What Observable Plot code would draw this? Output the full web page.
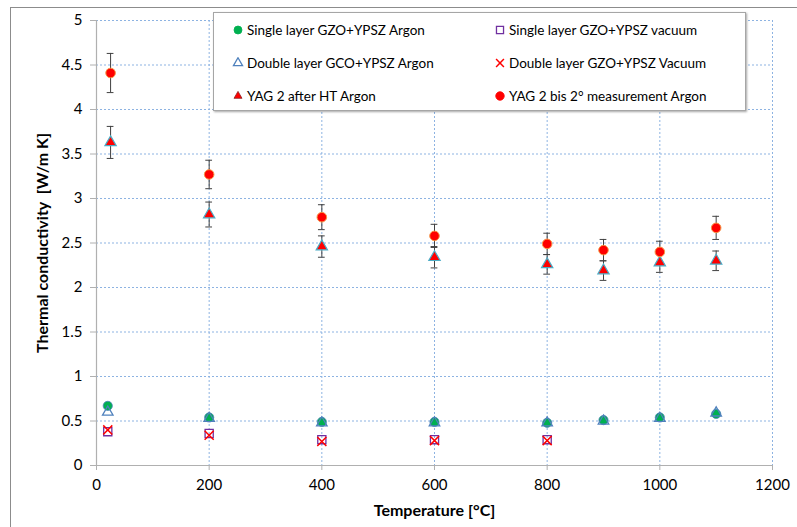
<!DOCTYPE html>
<html><head><meta charset="utf-8">
<script src="https://cdn.jsdelivr.net/npm/d3@7"></script>
<script src="https://cdn.jsdelivr.net/npm/@observablehq/plot@0.6"></script>
<style>
body{margin:0;background:#fff;font-family:Lato,"Open Sans",sans-serif;}
#wrap{position:relative;width:797px;height:527px;overflow:hidden;}
#frame{position:absolute;left:10px;top:7px;width:900px;height:700px;border-left:1px solid #8c8c8c;border-top:1px solid #8c8c8c;}
#chart{position:absolute;left:0;top:0;}
#legend{position:absolute;left:213px;top:12px;width:531px;height:97px;background:#fff;border:1px solid #a6a6a6;box-shadow:1px 1px 2px rgba(0,0,0,0.35);font-size:13.5px;color:#000;}
.li{position:absolute;display:flex;align-items:center;white-space:nowrap;}
.li svg{margin-right:3px;}
svg g[aria-label="x-axis label"], svg g[aria-label="y-axis label"]{font-weight:bold;font-size:16px;}
</style>
</head><body>
<div id="wrap"><div id="frame"></div><div id="chart"></div><div id="legend"></div></div>
<script>
// ---- data ----
const seriesNames = [
  "Single layer GZO+YPSZ Argon",
  "Single layer GZO+YPSZ vacuum",
  "Double layer GCO+YPSZ Argon",
  "Double layer GZO+YPSZ Vacuum",
  "YAG 2 after HT Argon",
  "YAG 2 bis 2° measurement Argon"
];
const tempArgon = [20, 200, 400, 600, 800, 900, 1000, 1100];
const singleArgon = [0.67, 0.54, 0.49, 0.49, 0.48, 0.51, 0.54, 0.58];
const doubleArgon = [0.60, 0.53, 0.48, 0.48, 0.48, 0.50, 0.53, 0.59];
const tempVacuum = [20, 200, 400, 600, 800];
const singleVacuum = [0.38, 0.36, 0.29, 0.29, 0.29];
const doubleVacuum = [0.40, 0.34, 0.27, 0.28, 0.28];
const tempYag = [25, 200, 400, 600, 800, 900, 1000, 1100];
const yagHT = [3.63, 2.82, 2.46, 2.34, 2.26, 2.19, 2.28, 2.30];
const yagHTErr = [0.18, 0.14, 0.12, 0.12, 0.11, 0.11, 0.11, 0.11];
const yagBis = [4.41, 3.27, 2.79, 2.58, 2.49, 2.42, 2.40, 2.67];
const yagBisErr = [0.22, 0.16, 0.14, 0.13, 0.12, 0.12, 0.12, 0.13];
const xTicks = [0, 200, 400, 600, 800, 1000, 1200];
const xTickLabels = ["0", "200", "400", "600", "800", "1000", "1200"];
const yTicks = [0, 0.5, 1, 1.5, 2, 2.5, 3, 3.5, 4, 4.5, 5];
const yTickLabels = ["0", "0.5", "1", "1.5", "2", "2.5", "3", "3.5", "4", "4.5", "5"];

// ---- styles per series ----
const styles = [
  {symbol: "circle", fill: "#00b050", stroke: "#4f81bd", r: 4.6, sw: 0.8},
  {symbol: "square", fill: "none", stroke: "#7030a0", r: 4.6, sw: 1.3},
  {symbol: "triangle", fill: "none", stroke: "#4f81bd", r: 3.9, sw: 1.3},
  {symbol: "times", fill: "none", stroke: "#ff0000", r: 4.2, sw: 1.5},
  {symbol: "triangle", fill: "#ff0000", stroke: "#4bacc6", r: 4.2, sw: 1.2},
  {symbol: "circle", fill: "#ff0000", stroke: "#f79646", r: 4.8, sw: 1}
];
const pts = (xs, ys) => xs.map((x, i) => ({x, y: ys[i]}));
const errs = (xs, ys, es) => xs.map((x, i) => ({x, y1: ys[i] - es[i], y2: ys[i] + es[i]}));
const seriesData = [
  pts(tempArgon, singleArgon),
  pts(tempVacuum, singleVacuum),
  pts(tempArgon, doubleArgon),
  pts(tempVacuum, doubleVacuum),
  pts(tempYag, yagHT),
  pts(tempYag, yagBis)
];
const errData = [...errs(tempYag, yagHT, yagHTErr), ...errs(tempYag, yagBis, yagBisErr)];
const capW = 6;

const gridStyle = {stroke: "#8db3e2", strokeOpacity: 1, strokeDasharray: "2,2", strokeWidth: 1};
const fmtY = d => yTickLabels[yTicks.indexOf(d)];
const fmtX = d => xTickLabels[xTicks.indexOf(d)];

const chart = Plot.plot({
  width: 797, height: 527,
  marginLeft: 96, marginRight: 25, marginTop: 20, marginBottom: 62,
  style: {fontFamily: "Lato, 'Open Sans', sans-serif", fontSize: "15px", color: "#000", background: "transparent", overflow: "visible"},
  x: {domain: [0, 1200]},
  y: {domain: [0, 5]},
  marks: [
    Plot.gridX(xTicks.slice(1), gridStyle),
    Plot.gridY(yTicks.slice(1), gridStyle),
    Plot.ruleX([0], {stroke: "#b0b0b0", strokeWidth: 1.2}),
    Plot.ruleY([0], {stroke: "#b0b0b0", strokeWidth: 1.2}),
    Plot.axisX(xTicks, {tickSize: 5, tickPadding: 9, stroke: "#b0b0b0", fill: "#000", tickFormat: fmtX,
      label: "Temperature [°C]", labelAnchor: "center", labelOffset: 50, labelArrow: false}),
    Plot.axisY(yTicks, {tickSize: 6, tickPadding: 8, stroke: "#b0b0b0", fill: "#000", tickFormat: fmtY,
      label: "Thermal conductivity  [W/m K]", labelAnchor: "center", labelOffset: 60, labelArrow: false}),
    Plot.ruleX(errData, {x: "x", y1: "y1", y2: "y2", stroke: "#404040", strokeWidth: 1}),
    Plot.ruleY(errData, {y: "y1", x1: d => d.x - capW, x2: d => d.x + capW, stroke: "#404040", strokeWidth: 1}),
    Plot.ruleY(errData, {y: "y2", x1: d => d.x - capW, x2: d => d.x + capW, stroke: "#404040", strokeWidth: 1}),
    ...seriesData.map((data, i) => Plot.dot(data, {
      x: "x", y: "y", symbol: styles[i].symbol, r: styles[i].r,
      fill: styles[i].fill, stroke: styles[i].stroke, strokeWidth: styles[i].sw
    }))
  ]
});
document.getElementById("chart").appendChild(chart);

// ---- legend ----
const legend = document.getElementById("legend");
const symMap = {circle: d3.symbolCircle, square: d3.symbolSquare, triangle: d3.symbolTriangle, times: d3.symbolTimes};
const legendPos = [
  {left: 18, top: 17}, {left: 280, top: 17},
  {left: 18, top: 50}, {left: 280, top: 50},
  {left: 18, top: 83}, {left: 280, top: 83}
];
const legendScale = [0.75, 0.75, 0.75, 0.75, 0.5, 0.75];
seriesNames.forEach((name, i) => {
  const s = styles[i];
  const item = document.createElement("div");
  item.className = "li";
  item.style.left = legendPos[i].left + "px";
  item.style.top = (legendPos[i].top - 9) + "px";
  item.style.height = "18px";
  const size = Math.PI * s.r * s.r * legendScale[i];
  const path = d3.symbol(symMap[s.symbol], size)();
  const lstroke = i === 4 ? "#8a1f1f" : (i === 0 || i === 5 ? s.fill : s.stroke);
  item.innerHTML = `<svg width="12" height="12" viewBox="-6 -6 12 12"><path d="${path}" fill="${s.fill}" stroke="${lstroke}" stroke-width="${i === 4 ? 0.8 : s.sw}"/></svg><span>${name}</span>`;
  legend.appendChild(item);
});
</script>
</body></html>
